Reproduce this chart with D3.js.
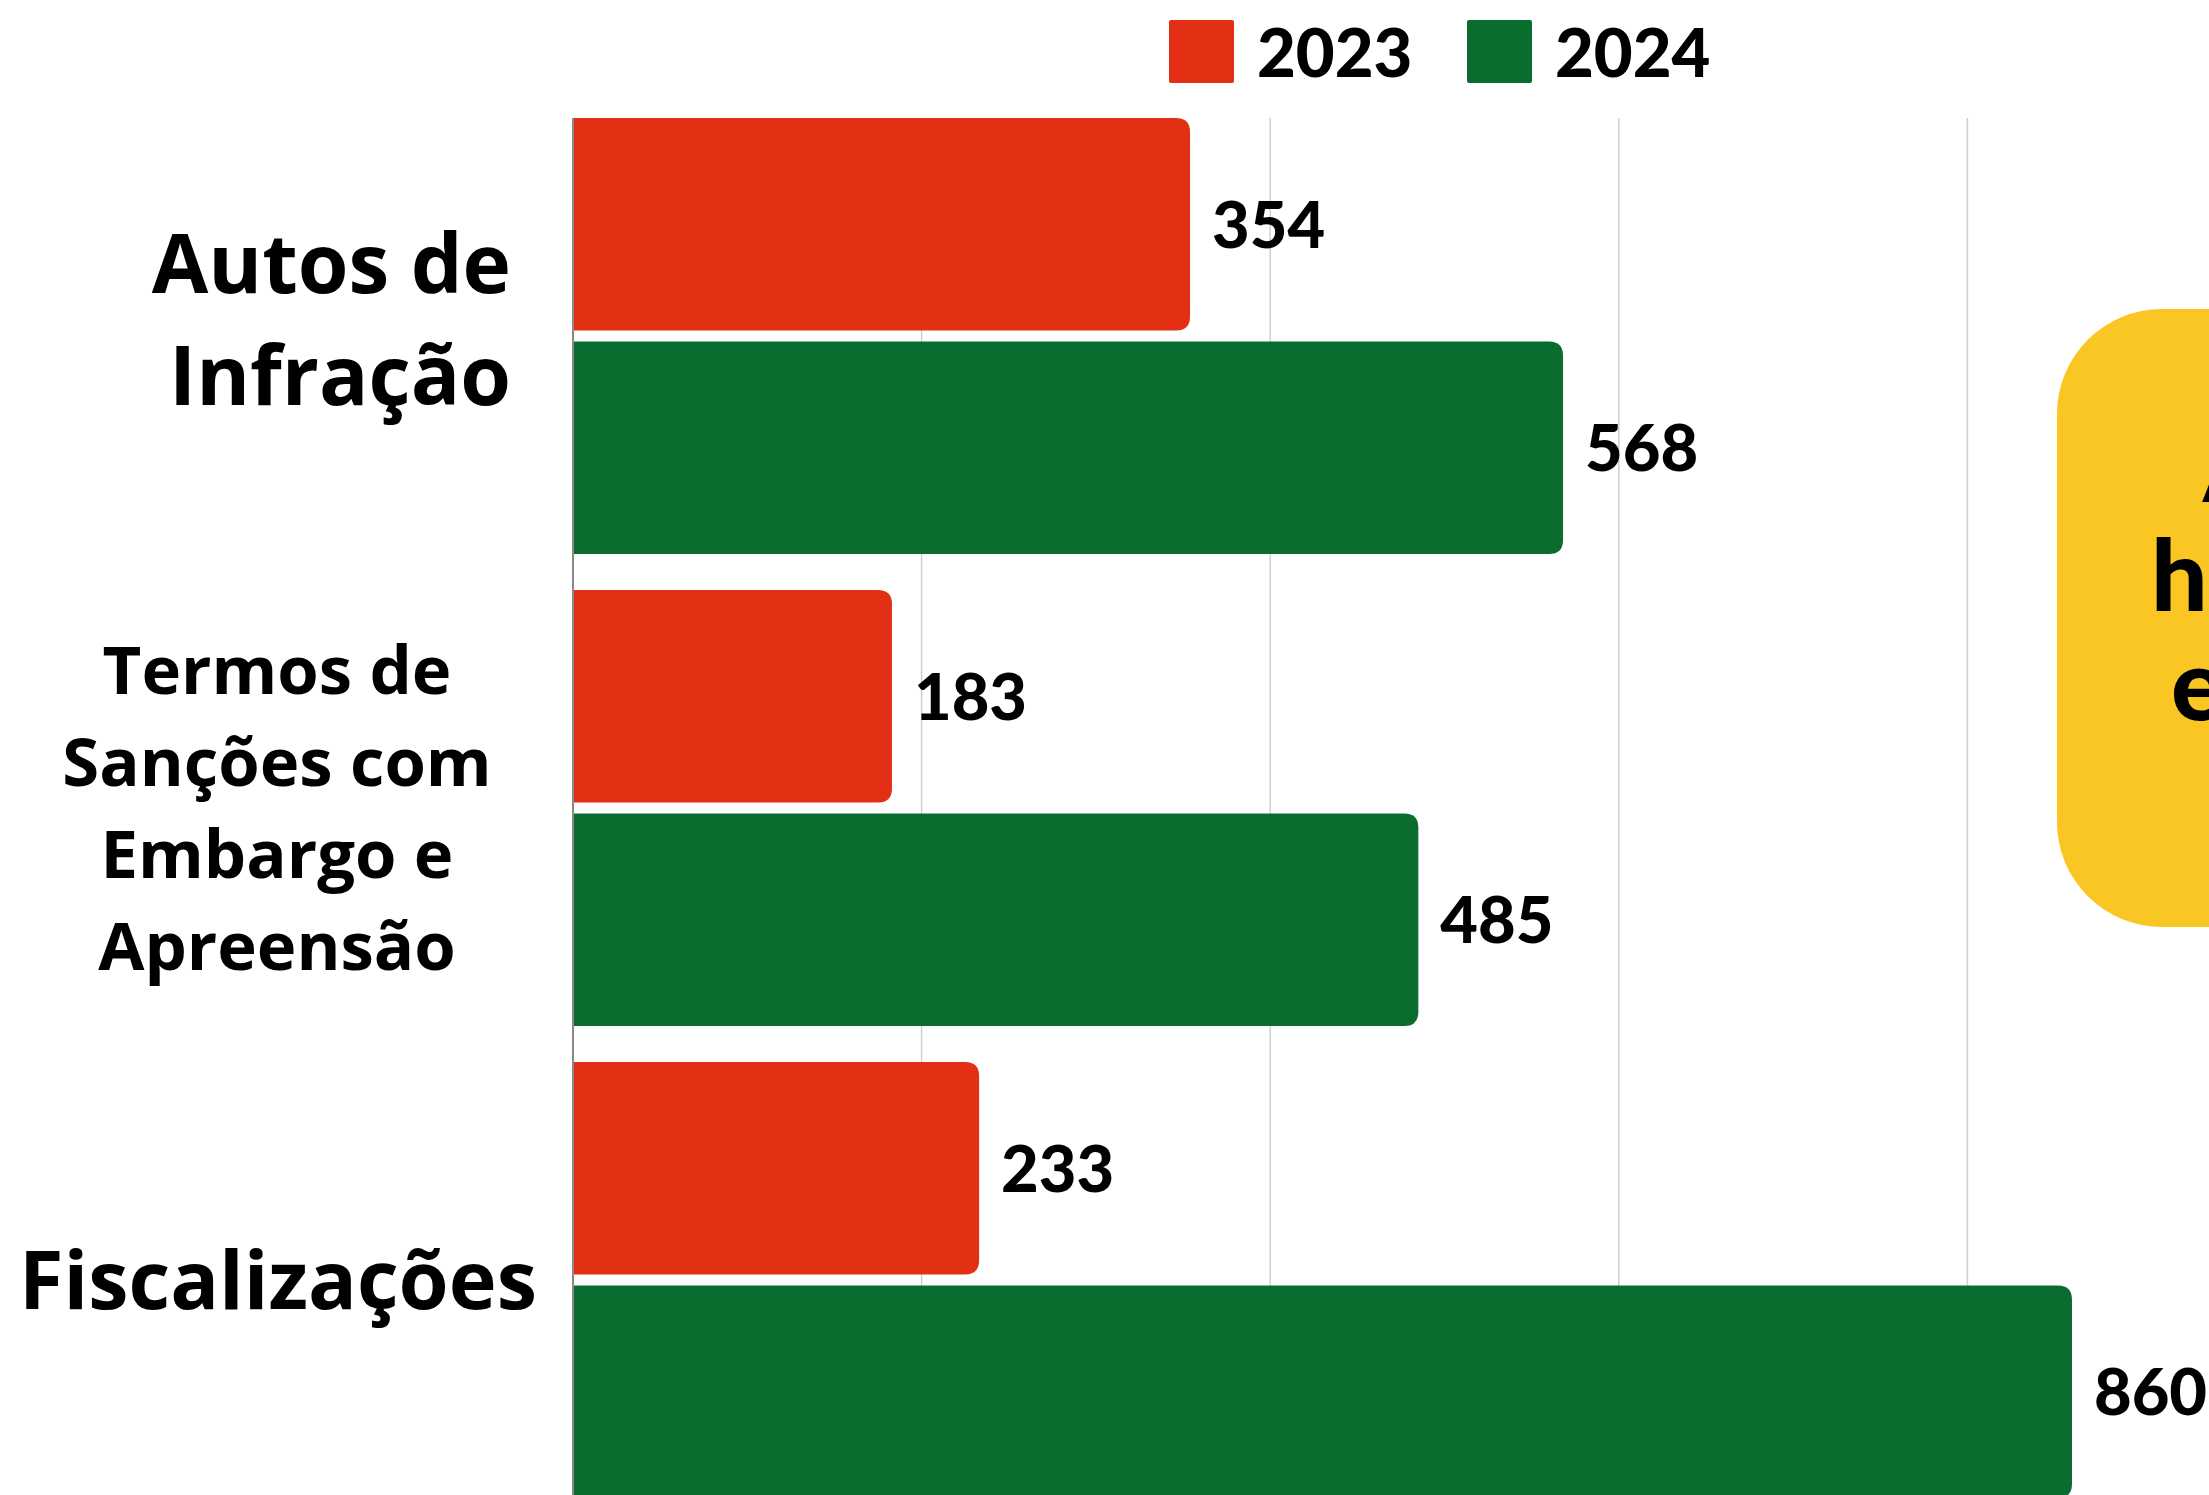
<!DOCTYPE html>
<html>
<head>
<meta charset="utf-8">
<script src="https://cdn.jsdelivr.net/npm/d3@7"></script>
<style>
  html, body { margin: 0; padding: 0; background: #fff; overflow: hidden; }
  svg { display: block; }
  .cat { font-family: "Open Sans", sans-serif; font-weight: 700; fill: #000; }
  .num { font-family: Lato, "Open Sans", sans-serif; font-weight: 900; fill: #000; }
</style>
</head>
<body>
<div id="chart"></div>
<script>
// chart data
const categories = ["Autos de Infração", "Termos de Sanções com Embargo e Apreensão", "Fiscalizações"];
const labelLines = [["Autos de", "Infração"], ["Termos de", "Sanções com", "Embargo e", "Apreensão"], ["Fiscalizações"]];
const years = ["2023", "2024"];
const values2023 = [354, 183, 233];
const values2024 = [568, 485, 860];
const gridTicks = [200, 400, 600, 800];
const noteLines = ["Alta", "hoje", "em 2024"];

const colors = { "2023": "#e33014", "2024": "#0a6c2e" };

const W = 2209, H = 1495;
const axisX = 573, plotTop = 118;

const svg = d3.select("#chart").append("svg")
    .attr("width", W)
    .attr("height", H);

const x = d3.scaleLinear().domain([0, 1000]).range([axisX, axisX + 1743]);

const y0 = d3.scaleBand()
    .domain(categories)
    .range([plotTop, plotTop + 3 * 472 - 36])
    .paddingInner(36 / 472)
    .paddingOuter(0);

const y1 = d3.scaleBand()
    .domain(years)
    .range([0, y0.bandwidth()])
    .paddingInner(0.05);

const rows = categories.map((c, i) => ({
    cat: c,
    lines: labelLines[i],
    vals: [{ year: "2023", v: values2023[i] }, { year: "2024", v: values2024[i] }]
}));

// gridlines
svg.selectAll(".grid")
    .data(gridTicks)
    .enter().append("line")
    .attr("x1", d => x(d)).attr("x2", d => x(d))
    .attr("y1", plotTop).attr("y2", H)
    .attr("stroke", "#cfcfcf")
    .attr("stroke-width", 1.5);

// bar with right corners rounded
function barPath(x0, yy, w, h, r) {
    r = Math.min(r, w, h / 2);
    return `M${x0},${yy}H${x0 + w - r}Q${x0 + w},${yy} ${x0 + w},${yy + r}` +
        `V${yy + h - r}Q${x0 + w},${yy + h} ${x0 + w - r},${yy + h}H${x0}Z`;
}

const groups = svg.selectAll(".group")
    .data(rows)
    .enter().append("g")
    .attr("transform", d => "translate(0," + y0(d.cat) + ")");

groups.selectAll("path")
    .data(d => d.vals)
    .enter().append("path")
    .attr("d", d => barPath(x(0), y1(d.year), x(d.v) - x(0), y1.bandwidth(), 14))
    .attr("fill", d => colors[d.year]);

groups.selectAll(".num")
    .data(d => d.vals)
    .enter().append("text")
    .attr("class", "num")
    .attr("x", d => x(d.v) + 22)
    .attr("y", d => y1(d.year) + y1.bandwidth() / 2)
    .attr("dy", "0.36em")
    .style("font-size", "65px")
    .text(d => d.v);

// axis line
svg.append("line")
    .attr("x1", axisX).attr("x2", axisX)
    .attr("y1", plotTop).attr("y2", H)
    .attr("stroke", "#8a8a8a")
    .attr("stroke-width", 2);

// category labels
const labelStyle = [
    { size: 82, lh: 112, anchor: "end", x: 511, dy: -16 },
    { size: 67, lh: 92, anchor: "middle", x: 277, dy: 0 },
    { size: 81, lh: 100, anchor: "middle", x: 278, dy: 0 }
];

groups.each(function (d, i) {
    const s = labelStyle[i];
    const c = y0.bandwidth() / 2;
    const n = d.lines.length;
    d3.select(this).selectAll(".cat")
        .data(d.lines)
        .enter().append("text")
        .attr("class", "cat")
        .attr("text-anchor", s.anchor)
        .attr("x", s.x)
        .attr("y", (t, j) => c + s.dy + (j - (n - 1) / 2) * s.lh + s.size * 0.714 / 2)
        .style("font-size", s.size + "px")
        .text(t => t);
});

// legend
const legend = svg.selectAll(".legend")
    .data(years)
    .enter().append("g")
    .attr("transform", (d, i) => "translate(" + (1169 + i * 298) + ",20)");

legend.append("rect")
    .attr("width", 65).attr("height", 63).attr("rx", 2)
    .attr("fill", d => colors[d]);

legend.append("text")
    .attr("class", "num")
    .attr("x", 88)
    .attr("y", 57)
    .style("font-size", "67px")
    .text(d => d);

// yellow note box (cut off at the right edge)
svg.append("rect")
    .attr("x", 2057).attr("y", 309)
    .attr("width", 400).attr("height", 618)
    .attr("rx", 105)
    .attr("fill", "#f9c623");

const noteX = [2203, 2151, 2171];
svg.selectAll(".note")
    .data(noteLines)
    .enter().append("text")
    .attr("class", "num")
    .attr("x", (d, i) => noteX[i])
    .attr("y", (d, i) => 502 + i * 109)
    .style("font-size", "100px")
    .text(d => d);
</script>
</body>
</html>
